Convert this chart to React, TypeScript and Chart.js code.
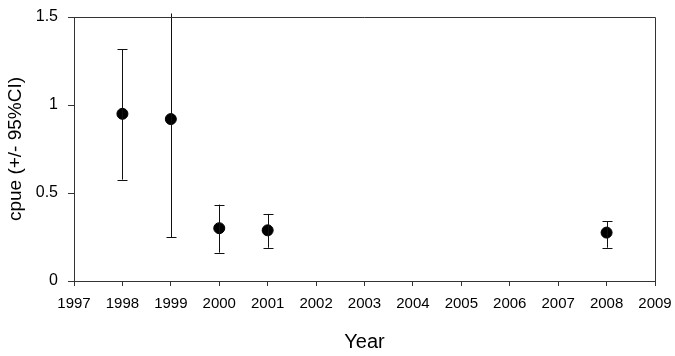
import React, { useEffect, useRef } from "react";
import { Chart, registerables } from "chart.js";

Chart.register(...registerables);

const years = [1998, 1999, 2000, 2001, 2008];
const cpue = [0.95, 0.92, 0.3, 0.288, 0.275];
const ciLower = [0.576, 0.25, 0.161, 0.189, 0.189];
const ciUpper = [1.318, 1.52, 0.434, 0.381, 0.339];
const xMin = 1997;
const xMax = 2009;
const yMin = 0;
const yMax = 1.5;

const FONT = "'Liberation Sans', Arial, sans-serif";

const errorBarPlugin = {
  id: "errorBars",
  afterDatasetsDraw(chart: any) {
    const ctx = chart.ctx;
    const xs = chart.scales.x;
    const ys = chart.scales.y;
    ctx.save();
    ctx.strokeStyle = "#111";
    ctx.lineWidth = 1;
    const cap = 5;
    years.forEach((yr, i) => {
      const px = Math.round(xs.getPixelForValue(yr)) + 0.5;
      const lo = ys.getPixelForValue(ciLower[i]);
      const hi = ys.getPixelForValue(ciUpper[i]);
      ctx.beginPath();
      ctx.moveTo(px, lo);
      ctx.lineTo(px, hi);
      ctx.moveTo(px - cap, Math.round(lo) + 0.5);
      ctx.lineTo(px + cap, Math.round(lo) + 0.5);
      if (ciUpper[i] <= yMax) {
        ctx.moveTo(px - cap, Math.round(hi) + 0.5);
        ctx.lineTo(px + cap, Math.round(hi) + 0.5);
      }
      ctx.stroke();
    });
    ctx.restore();
  },
};

const framePlugin = {
  id: "frame",
  afterDraw(chart: any) {
    const { ctx, chartArea } = chart;
    ctx.save();
    ctx.strokeStyle = "#333";
    ctx.lineWidth = 1;
    ctx.beginPath();
    ctx.moveTo(chartArea.left, Math.round(chartArea.top) + 0.5);
    ctx.lineTo(Math.round(chartArea.right) + 0.5, Math.round(chartArea.top) + 0.5);
    ctx.lineTo(Math.round(chartArea.right) + 0.5, chartArea.bottom);
    ctx.stroke();
    ctx.restore();
  },
};

export default function App() {
  const ref = useRef<HTMLCanvasElement>(null);
  useEffect(() => {
    document.body.style.margin = "0";
    const chart = new Chart(ref.current as HTMLCanvasElement, {
      type: "scatter",
      data: {
        datasets: [
          {
            data: years.map((y, i) => ({ x: y, y: cpue[i] })),
            backgroundColor: "#000",
            borderColor: "#000",
            pointRadius: 5.5,
            pointHoverRadius: 5.5,
          },
        ],
      },
      plugins: [errorBarPlugin, framePlugin],
      options: {
        animation: false,
        responsive: false,
        maintainAspectRatio: false,
        layout: { padding: { top: 17, right: 20, left: 0, bottom: 0 } },
        plugins: { legend: { display: false }, tooltip: { enabled: false } },
        scales: {
          x: {
            type: "linear",
            min: xMin,
            max: xMax,
            afterFit: (s: any) => {
              s.height = 75;
              s.paddingLeft = 0;
              s.paddingRight = 0;
            },
            ticks: {
              stepSize: 1,
              color: "#000",
              font: { family: FONT, size: 15 },
              padding: 9,
              maxRotation: 0,
              autoSkip: false,
              callback: (v: any) => String(v),
            },
            grid: {
              drawOnChartArea: false,
              drawTicks: true,
              tickLength: 5,
              color: "#333",
            },
            border: { display: true, color: "#333", width: 1 },
            title: {
              display: true,
              text: "Year",
              color: "#000",
              font: { family: FONT, size: 20 },
              padding: { top: 0, bottom: 2 },
            },
          },
          y: {
            type: "linear",
            min: yMin,
            max: yMax,
            afterFit: (s: any) => {
              s.width = 74;
              s.paddingTop = 0;
              s.paddingBottom = 0;
            },
            ticks: {
              stepSize: 0.5,
              color: "#000",
              font: { family: FONT, size: 16 },
              padding: 10,
              callback: (v: any) => String(v),
            },
            grid: {
              drawOnChartArea: false,
              drawTicks: true,
              tickLength: 6,
              color: "#333",
            },
            border: { display: true, color: "#333", width: 1 },
            title: {
              display: true,
              text: "cpue (+/- 95%CI)",
              color: "#000",
              font: { family: FONT, size: 19 },
              padding: { top: 4, bottom: 0 },
            },
          },
        },
      },
    });
    return () => chart.destroy();
  }, []);
  return (
    <div style={{ position: "absolute", left: 0, top: 0, width: 675, height: 356, background: "#fff" }}>
      <canvas ref={ref} width={675} height={356} style={{ width: 675, height: 356 }} />
    </div>
  );
}
